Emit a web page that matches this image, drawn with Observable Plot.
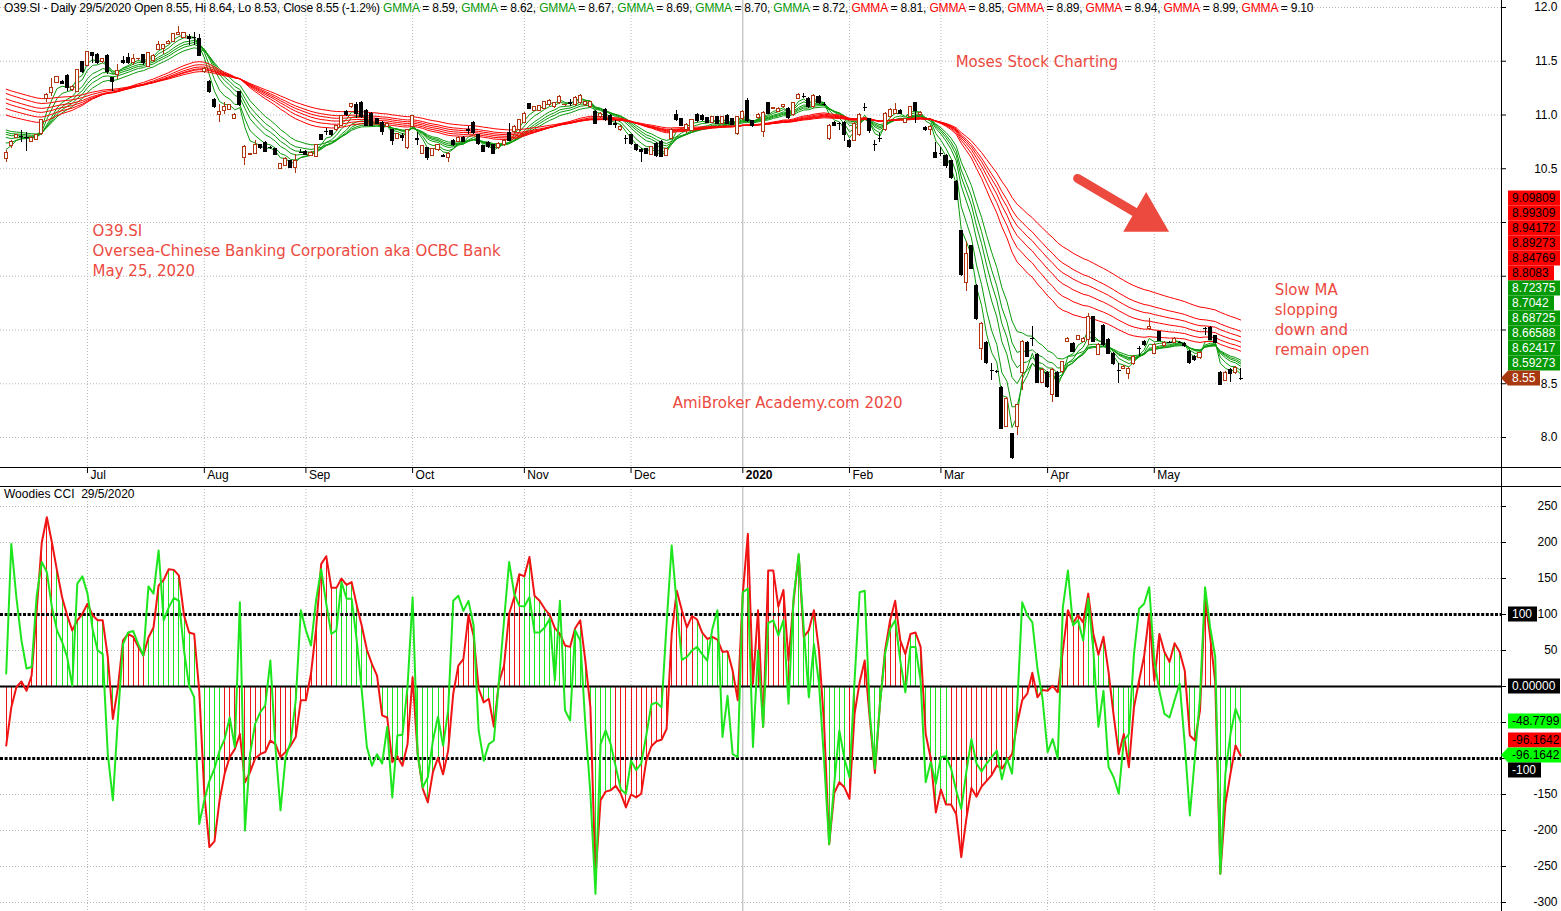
<!DOCTYPE html>
<html>
<head>
<meta charset="utf-8">
<script src="https://cdn.jsdelivr.net/npm/d3@7"></script>
<script src="https://cdn.jsdelivr.net/npm/@observablehq/plot@0.6"></script>
<style>
html,body{margin:0;padding:0;background:#fff;overflow:hidden;}
#root{position:relative;width:1561px;height:911px;overflow:hidden;background:#fff;font-family:"Liberation Sans",Arial,sans-serif;}
#root svg{display:block;}
.hdr{position:absolute;left:4px;top:1px;font-size:12px;line-height:14px;letter-spacing:-0.18px;white-space:nowrap;color:#000;}
.sub{position:absolute;left:4px;top:487px;font-size:12px;line-height:14px;white-space:nowrap;color:#000;}
</style>
</head>
<body>
<div id="root"></div>
<script>
// ---------------- DATA ----------------
const ticker = "O39.SI";
const dateText = "29/5/2020";

const open = [
10.59,10.71,10.79,10.80,10.79,10.75,10.77,10.82,11.15,11.20,
11.30,11.31,11.36,11.23,11.21,11.49,11.46,11.58,11.56,11.49,
11.55,11.34,11.37,11.50,11.53,11.48,11.52,11.56,11.45,11.50,
11.60,11.61,11.66,11.68,11.74,11.72,11.73,11.72,11.71,11.40,
11.31,11.14,11.00,11.04,11.05,10.96,11.21,10.60,10.63,10.64,
10.72,10.74,10.70,10.68,10.50,10.53,10.57,10.51,10.65,10.66,
10.62,10.61,10.81,10.85,10.85,10.86,10.90,11.03,11.07,11.09,
11.11,11.04,11.01,10.96,10.93,10.89,10.86,10.78,10.80,10.69,
10.89,10.78,10.64,10.69,10.62,10.67,10.62,10.60,10.76,10.75,
10.79,10.86,10.93,10.81,10.71,10.74,10.72,10.69,10.72,10.83,
10.84,10.86,10.93,11.10,11.04,11.04,11.06,11.09,11.07,11.11,
11.09,11.11,11.09,11.11,11.09,11.07,11.03,10.98,11.05,10.99,
10.92,10.86,10.78,10.81,10.72,10.67,10.68,10.63,10.73,10.75,
10.62,10.78,11.00,10.96,10.86,10.85,11.00,10.99,10.97,10.93,
10.98,10.92,10.99,10.96,10.82,10.96,11.13,10.94,10.97,10.84,
11.11,11.06,11.03,11.07,11.06,11.00,11.15,11.17,11.15,11.07,
11.17,11.10,10.78,10.93,10.92,10.93,10.76,10.76,10.81,11.07,
10.96,10.73,10.78,10.86,10.98,11.01,11.04,10.93,10.98,11.11,
11.00,10.88,10.86,10.65,10.64,10.62,10.57,10.38,9.92,9.44,
9.78,9.41,8.82,8.88,8.62,8.61,8.46,8.10,8.03,8.10,
8.60,8.88,8.92,8.77,8.51,8.60,8.40,8.60,8.61,8.89,
8.87,8.91,8.89,8.91,9.12,8.77,9.04,8.91,8.78,8.62,
8.64,8.59,8.68,8.83,8.89,9.01,8.78,8.98,8.85,8.88,
8.88,8.88,8.87,8.80,8.75,8.74,9.01,9.02,8.94,8.60,
8.53,8.63,8.60,8.55];

const high = [
10.67,10.76,10.82,10.86,10.84,10.80,10.82,10.95,11.20,11.34,
11.35,11.32,11.38,11.27,11.42,11.50,11.59,11.58,11.57,11.53,
11.56,11.34,11.47,11.54,11.57,11.56,11.53,11.56,11.58,11.56,
11.68,11.65,11.69,11.75,11.82,11.77,11.75,11.77,11.75,11.44,
11.32,11.15,11.10,11.12,11.10,11.01,11.22,10.72,10.64,10.76,
10.73,10.75,10.71,10.69,10.55,10.60,10.58,10.63,10.68,10.67,
10.66,10.73,10.82,10.87,10.86,10.90,10.99,11.04,11.11,11.12,
11.13,11.05,11.02,10.97,10.94,10.93,10.86,10.83,10.83,10.86,
10.99,10.84,10.72,10.70,10.69,10.73,10.63,10.65,10.77,10.80,
10.80,10.89,10.94,10.82,10.72,10.75,10.73,10.74,10.77,10.92,
10.90,10.96,11.02,11.11,11.08,11.09,11.13,11.14,11.12,11.18,
11.10,11.14,11.17,11.19,11.13,11.13,11.04,11.02,11.06,11.00,
10.95,10.90,10.81,10.82,10.73,10.69,10.69,10.71,10.74,10.76,
10.69,10.87,11.04,10.97,10.92,10.96,11.01,11.00,10.98,10.99,
10.99,10.99,11.00,10.97,10.98,11.04,11.15,10.95,11.01,11.03,
11.12,11.07,11.07,11.10,11.07,11.12,11.20,11.20,11.16,11.19,
11.18,11.12,10.91,10.94,10.93,10.94,10.77,10.93,11.01,11.11,
10.97,10.76,10.83,11.02,11.06,11.11,11.05,10.97,11.08,11.12,
11.03,10.89,10.90,10.74,10.70,10.63,10.58,10.39,9.93,9.82,
9.79,9.42,9.07,8.89,8.69,8.62,8.47,8.37,8.04,8.31,
8.90,8.89,9.03,8.78,8.64,8.61,8.64,8.61,8.71,8.93,
8.88,8.95,8.93,9.15,9.13,8.87,9.05,8.92,8.79,8.69,
8.67,8.65,8.76,8.85,8.90,9.11,8.87,8.99,8.89,8.89,
8.93,8.89,8.88,8.81,8.76,8.80,9.02,9.03,8.95,8.61,
8.61,8.64,8.66,8.64];

const low = [
10.56,10.69,10.78,10.74,10.66,10.74,10.76,10.81,11.12,11.17,
11.29,11.28,11.22,11.22,11.21,11.39,11.45,11.48,11.47,11.48,
11.38,11.22,11.33,11.47,11.47,11.46,11.51,11.46,11.45,11.49,
11.60,11.56,11.66,11.67,11.74,11.72,11.65,11.65,11.54,11.39,
11.20,11.06,10.93,11.00,11.04,10.96,11.08,10.53,10.62,10.64,
10.68,10.65,10.68,10.62,10.50,10.52,10.50,10.46,10.64,10.62,
10.61,10.60,10.76,10.81,10.80,10.85,10.89,10.99,11.06,10.97,
10.97,10.89,10.89,10.91,10.81,10.88,10.72,10.77,10.75,10.68,
10.88,10.72,10.63,10.58,10.61,10.66,10.60,10.56,10.71,10.74,
10.74,10.82,10.82,10.72,10.65,10.69,10.63,10.68,10.71,10.75,
10.83,10.85,10.92,11.05,11.03,11.03,11.05,11.08,11.06,11.10,
11.08,11.08,11.08,11.10,11.08,11.06,10.91,10.97,10.94,10.90,
10.87,10.85,10.73,10.72,10.66,10.56,10.63,10.62,10.60,10.60,
10.61,10.77,10.94,10.89,10.83,10.84,10.93,10.94,10.92,10.92,
10.91,10.91,10.91,10.90,10.81,10.95,10.93,10.88,10.96,10.79,
11.00,11.05,11.02,11.06,10.96,10.99,11.14,11.15,11.06,11.06,
11.10,11.08,10.76,10.89,10.86,10.75,10.69,10.75,10.80,11.03,
10.83,10.66,10.74,10.85,10.97,11.00,11.00,10.92,10.96,10.92,
10.99,10.85,10.81,10.60,10.61,10.50,10.40,10.20,9.50,9.36,
9.56,9.09,8.72,8.68,8.53,8.60,8.07,8.09,7.80,8.02,
8.44,8.74,8.85,8.50,8.50,8.46,8.33,8.37,8.60,8.88,
8.79,8.90,8.88,8.86,8.88,8.76,8.85,8.77,8.67,8.50,
8.63,8.54,8.67,8.75,8.85,9.00,8.77,8.89,8.84,8.87,
8.87,8.87,8.84,8.68,8.71,8.73,8.95,8.90,8.87,8.48,
8.52,8.51,8.59,8.53];

const close = [
10.65,10.75,10.81,10.80,10.79,10.79,10.81,10.95,11.19,11.25,
11.35,11.29,11.25,11.26,11.42,11.40,11.59,11.55,11.48,11.52,
11.40,11.31,11.41,11.48,11.48,11.52,11.525,11.48,11.58,11.55,
11.65,11.65,11.68,11.75,11.76,11.76,11.71,11.72,11.55,11.43,
11.21,11.07,11.03,11.07,11.09,11.00,11.09,10.70,10.635,10.72,
10.69,10.66,10.70,10.63,10.54,10.59,10.51,10.57,10.65,10.63,
10.65,10.72,10.77,10.85,10.81,10.90,10.99,11.00,11.10,11.01,
10.98,10.90,10.90,10.92,10.84,10.92,10.76,10.82,10.79,10.86,
10.99,10.77,10.71,10.60,10.68,10.72,10.61,10.64,10.72,10.79,
10.75,10.85,10.83,10.73,10.66,10.70,10.64,10.73,10.76,10.76,
10.89,10.95,11.01,11.06,11.07,11.08,11.12,11.13,11.11,11.17,
11.095,11.10,11.16,11.18,11.12,11.12,10.92,11.01,10.95,10.91,
10.91,10.89,10.78,10.73,10.67,10.66,10.64,10.70,10.62,10.61,
10.68,10.86,10.95,10.90,10.91,10.95,10.94,10.95,10.93,10.98,
10.92,10.98,10.92,10.91,10.98,11.03,10.94,10.90,11.00,11.02,
11.01,11.065,11.06,11.09,10.97,11.11,11.19,11.17,11.07,11.18,
11.11,11.10,10.90,10.90,10.92,10.81,10.70,10.92,11.00,11.07,
10.85,10.73,10.78,11.01,11.05,11.05,11.01,10.96,11.07,11.04,
11.02,10.86,10.89,10.60,10.64,10.53,10.41,10.21,9.51,9.71,
9.57,9.10,9.06,8.69,8.62,8.61,8.08,8.36,7.81,8.30,
8.89,8.75,8.92,8.51,8.63,8.47,8.63,8.38,8.70,8.92,
8.80,8.94,8.92,9.12,8.89,8.86,8.86,8.78,8.68,8.62,
8.66,8.64,8.75,8.83,8.86,9.03,8.86,8.90,8.88,8.88,
8.92,8.88,8.85,8.69,8.72,8.79,9.01,8.91,8.88,8.49,
8.60,8.59,8.65,8.55];

// Woodies CCI: CCI(14) (red line + histogram) and CCI(6) (green line)
const cci14 = [
-82,-29,-1,7,-6,15,105,200,235,200,
161,124,99,78,92,101,115,99,92,92,
41,-45,-1,64,73,69,55,43,68,82,
140,148,163,162,154,99,75,73,-6,-149,
-223,-215,-158,-121,-98,-87,-66,-133,-119,-100,
-94,-91,-75,-80,-98,-91,-82,-70,-19,-19,
18,80,170,181,137,137,150,141,145,113,
84,51,31,15,-40,-43,-105,-97,-110,-80,
13,-94,-142,-161,-119,-99,-122,-89,-10,29,
38,99,71,-3,-22,-17,-56,6,29,101,
124,156,153,180,126,119,108,99,81,73,
57,55,81,92,36,-29,-265,-158,-146,-144,
-138,-149,-168,-150,-154,-149,-103,-83,-76,-74,
-59,73,133,106,82,98,93,75,66,69,
65,48,49,22,-19,129,212,4,106,-56,
161,161,111,134,36,119,182,69,78,106,
50,-52,-219,-148,-133,-140,-156,-38,6,36,
-45,-120,-24,50,92,119,64,45,73,75,
55,-66,-100,-175,-143,-164,-164,-177,-237,-184,
-141,-153,-139,-131,-123,-110,-114,-104,-94,-52,
-19,-10,19,-15,-5,-6,1,-8,50,106,
88,99,89,129,73,44,69,20,-40,-94,
-66,-112,-29,8,42,101,8,73,48,34,
60,48,22,-68,-75,-33,124,69,6,-260,
-163,-121,-82,-96.1642];

const cci6 = [
18,198,124,64,25,27,126,173,159,110,
78,62,41,1,143,153,129,80,50,45,
-94,-158,-43,59,75,77,59,43,139,129,
189,92,110,123,119,50,1,-15,-191,-158,
-131,-114,-89,-73,-43,-84,117,-200,-94,-52,
-36,-26,36,-84,-172,-98,-77,-19,106,78,
57,120,163,115,73,78,145,122,122,64,
-6,-84,-110,-94,-107,-56,-154,-68,-67,-1,
124,-94,-140,-126,-75,-42,-82,-33,119,126,
105,119,85,-61,-103,-80,-75,8,92,173,
129,112,111,124,75,75,82,94,8,119,
-33,-47,78,64,-52,-149,-288,-80,-61,-80,
-112,-143,-149,-103,-116,-107,-68,-25,-22,-29,
87,196,113,37,41,50,55,45,36,80,
106,-70,-13,-94,-98,131,136,-84,50,-56,
88,92,71,92,-24,124,184,80,-15,59,
4,-103,-219,-135,-61,-100,-126,8,131,133,
-38,-114,-24,45,80,92,36,-8,55,55,
8,-133,-105,-135,-98,-97,-114,-144,-170,-119,
-73,-107,-118,-107,-98,-89,-129,-100,-121,-29,
117,99,89,25,-17,-91,-73,-100,110,161,
85,92,64,122,50,-56,-6,-112,-126,-149,
-75,-66,45,108,115,138,36,-6,-38,-43,
-19,4,-80,-179,-98,-15,138,82,41,-260,
-121,-66,-31,-48.7799];

// histogram colour runs: [first bar index, colour]
const histColorRuns = [[0,"r"],[10,"g"],[23,"r"],[28,"g"],[43,"r"],[65,"g"],[79,"r"],[81,"g"],[86,"r"],[93,"g"],[97,"r"],[102,"g"],[120,"r"],[136,"g"],[145,"r"],[149,"g"],[150,"r"],[155,"g"],[166,"r"],[170,"g"],[173,"r"],[178,"g"],[186,"r"],[203,"g"],[206,"r"],[207,"g"],[208,"r"],[213,"g"],[223,"r"],[228,"g"],[236,"r"],[239,"g"]];

// GMMA periods and the value of each average at the first visible bar
const gmmaShortPeriods = [3,5,8,10,12,15];
const gmmaLongPeriods = [30,35,40,45,50,60];
const gmmaShortSeeds = [10.68,10.74,10.79,10.82,10.84,10.86];
const gmmaLongSeeds = [11.00,11.06,11.11,11.15,11.20,11.24];
// last values shown on the right axis
const gmmaLongLast = [9.09809,8.99309,8.94172,8.89273,8.84769,8.8083];
const gmmaShortLast = [8.72375,8.7042,8.68725,8.66588,8.62417,8.59273];

// axis ticks
const priceTicks = [8,8.5,9,9.5,10,10.5,11,11.5,12];
const cciTicks = [250,200,150,100,50,0,-50,-100,-150,-200,-250,-300];
const monthLabels = ["Jul","Aug","Sep","Oct","Nov","Dec","2020","Feb","Mar","Apr","May"];
const monthStarts = [16,39,59,80,102,123,145,166,184,205,226];

// annotations (bar index, price)
const notes = [
  {x:186.9, y:11.488, t:"Moses Stock Charting"},
  {x:17.0, y:9.916, t:"O39.SI"},
  {x:17.0, y:9.730, t:"Oversea-Chinese Banking Corporation aka OCBC Bank"},
  {x:17.0, y:9.544, t:"May 25, 2020"},
  {x:131.2, y:8.316, t:"AmiBroker Academy.com 2020"},
  {x:249.7, y:9.367, t:"Slow MA"},
  {x:249.7, y:9.181, t:"slopping"},
  {x:249.7, y:8.995, t:"down and"},
  {x:249.7, y:8.809, t:"remain open"}
];
const arrowShaft = [{x1:210.9, y1:10.41, x2:222.0, y2:10.10}];
const arrowHead = [{x:224.4, y:10.037}];

// ---------------- STYLE ----------------
const FONT = '"Liberation Sans", Arial, sans-serif';
const GRID = "#b8b8b8";
const UP = "#b0350f";
const GMMA_GREEN = "#0a9a0a";
const GMMA_RED = "#ff0000";
const CCI_RED = "#f01414";
const CCI_GREEN = "#1ee61e";
const NOTE = "#ec4a3f";
const xMin = -1.122, xMax = 294.35;
const pxPerBar = 5.08;
const priceDomain = [7.721, 12.065];
const cciDomain = [-312.5, 277.8];
const TOP_H = 486, TOP_MB = 19, CCI_H = 425;

// ---------------- DERIVED TABLES ----------------
const n = close.length;
const bars = close.map((c, i) => ({i, o: open[i], h: high[i], l: low[i], c}));
function ema(period, seed) {
  const a = 2 / (period + 1);
  const out = [seed];
  for (let i = 1; i < n; i++) out.push(out[i - 1] + a * (close[i] - out[i - 1]));
  return out;
}
const shortRows = [], longRows = [];
gmmaShortPeriods.forEach((p, k) => ema(p, gmmaShortSeeds[k]).forEach((v, i) => shortRows.push({i, v, p})));
gmmaLongPeriods.forEach((p, k) => ema(p, gmmaLongSeeds[k]).forEach((v, i) => longRows.push({i, v, p})));

function histColor(i) {
  let c = "r";
  for (const [s, col] of histColorRuns) if (i >= s) c = col;
  return c === "g" ? CCI_GREEN : CCI_RED;
}
const cciRows = cci14.map((v, i) => ({i, v14: v, v6: cci6[i], hc: histColor(i)}));
const months = monthLabels.map((label, k) => ({label, i: monthStarts[k], year: /^\d{4}$/.test(label)}));

const ctx = document.createElement("canvas").getContext("2d");
ctx.font = "12px " + FONT;
const tw = s => ctx.measureText(s).width;

// ---------------- VALUE LABEL LAYOUT (right axis) ----------------
const AXIS_X = 1501, BOX_X = AXIS_X + 7, TICKTEXT_RIGHT = AXIS_X + 56;
function layoutLabels(items, anchorIdx, yScale) {
  const trueY = items.map(d => yScale(d.v));
  const pos = trueY.slice();
  for (let k = anchorIdx - 1; k >= 0; k--) pos[k] = Math.min(trueY[k], pos[k + 1] - 15);
  for (let k = anchorIdx + 1; k < items.length; k++) pos[k] = Math.max(trueY[k], pos[k - 1] + 15);
  return items.map((d, k) => ({...d, y: Math.round(pos[k]), w: Math.round(tw(d.text) + 9)}));
}
function visibleTicks(ticks, fmt, yScale, boxes) {
  return ticks.filter(t => {
    const y = yScale(t), left = TICKTEXT_RIGHT - tw(fmt(t));
    return !boxes.some(b => Math.abs(b.y - y) < 13 && BOX_X + b.w > left + 2);
  });
}

const priceYScale = d3.scaleLinear(priceDomain, [TOP_H - TOP_MB, 0]);
const cciYScale = d3.scaleLinear(cciDomain, [CCI_H, 0]);

const priceItems = layoutLabels([
  ...gmmaLongLast.map(v => ({v, text: String(v), bg: "#ff0000", fg: "#000"})),
  ...gmmaShortLast.map(v => ({v, text: String(v), bg: "#079a07", fg: "#fff"})),
  {v: close[n - 1], text: String(close[n - 1]), bg: "#a8380f", fg: "#fff", arrow: true}
], 12, priceYScale);

const lastHist = histColor(n - 1);
const cciItems = layoutLabels([
  {v: 100, text: "100", bg: "#000", fg: "#fff"},
  {v: 0, text: (0).toFixed(5), bg: "#000", fg: "#fff"},
  {v: cci6[n - 1], text: cci6[n - 1].toFixed(4), bg: "#00ff00", fg: "#000"},
  {v: cci14[n - 1], text: cci14[n - 1].toFixed(4), bg: "#ff0000", fg: "#000"},
  {v: cci14[n - 1], text: cci14[n - 1].toFixed(4), bg: lastHist === CCI_GREEN ? "#00ff00" : "#ff0000", fg: "#000", arrow: true},
  {v: -100, text: "-100", bg: "#000", fg: "#fff"}
], 4, cciYScale);

const priceFmt = d => d.toFixed(1);
const cciFmt = d => String(d);
const priceTickText = visibleTicks(priceTicks, priceFmt, priceYScale, priceItems);
const cciTickText = visibleTicks(cciTicks, cciFmt, cciYScale, cciItems);

const baseStyle = {background: "transparent", fontFamily: FONT, fontSize: "12px", overflow: "visible", color: "#000"};

// ---------------- PRICE PANE ----------------
const topChart = Plot.plot({
  width: 1561, height: TOP_H,
  marginTop: 0, marginRight: 60, marginBottom: TOP_MB, marginLeft: 0,
  x: {domain: [xMin, xMax], axis: null},
  y: {domain: priceDomain, axis: null},
  style: baseStyle,
  marks: [
    Plot.ruleY(priceTicks, {stroke: GRID, strokeDasharray: "1,2"}),
    Plot.ruleX(months.filter(d => !d.year), {x: "i", stroke: GRID, strokeDasharray: "1,2"}),
    Plot.ruleX(months.filter(d => d.year), {x: "i", stroke: "#b0b0b0"}),
    Plot.line(shortRows, {x: "i", y: "v", z: "p", stroke: GMMA_GREEN, strokeWidth: 1}),
    Plot.line(longRows, {x: "i", y: "v", z: "p", stroke: GMMA_RED, strokeWidth: 1}),
    Plot.ruleX(bars, {x: "i", y1: "l", y2: "h", stroke: d => d.c > d.o ? UP : "#000", shapeRendering: "crispEdges"}),
    Plot.rect(bars.filter(d => d.c !== d.o), {x1: d => d.i - 0.3, x2: d => d.i + 0.3, y1: "o", y2: "c",
      fill: d => d.c > d.o ? "#fff" : "#000", stroke: d => d.c > d.o ? UP : "#000", shapeRendering: "crispEdges"}),
    Plot.link(bars.filter(d => d.c === d.o), {x1: d => d.i - 0.4, x2: d => d.i + 0.4, y1: "c", y2: "c", stroke: "#000", shapeRendering: "crispEdges"}),
    Plot.text(notes, {x: "x", y: "y", text: "t", textAnchor: "start", fill: NOTE, fontSize: 15, fontFamily: '"DejaVu Sans", sans-serif'}),
    Plot.link(arrowShaft, {x1: "x1", y1: "y1", x2: "x2", y2: "y2", stroke: NOTE, strokeWidth: 9, strokeLinecap: "round"}),
    Plot.dot(arrowHead, {x: "x", y: "y", symbol: "triangle", r: 17, rotate: 120, fill: NOTE, stroke: "none"}),
    // x axis band
    Plot.ruleY([priceDomain[0]], {x1: () => xMin, x2: () => xMax + 60 / pxPerBar, stroke: "#000"}),
    Plot.ruleX(months, {x: "i", y1: () => priceDomain[0], y2: () => priceDomain[0] - 6 / 107.5, stroke: "#000"}),
    Plot.text(months.filter(d => !d.year), {x: "i", text: "label", frameAnchor: "bottom", dy: 11, dx: 3, textAnchor: "start", fontSize: 12, fill: "#000"}),
    Plot.text(months.filter(d => d.year), {x: "i", text: "label", frameAnchor: "bottom", dy: 11, dx: 3, textAnchor: "start", fontSize: 12, fontWeight: "bold", fill: "#000"}),
    // right axis
    Plot.ruleX([xMax], {y1: () => priceDomain[0] - TOP_MB / 107.5, y2: () => priceDomain[1], stroke: "#000"}),
    Plot.ruleY(priceTicks, {x1: () => xMax, x2: () => xMax + 5 / pxPerBar, stroke: "#000"}),
    Plot.text(priceTickText, {y: d => d, text: priceFmt, frameAnchor: "right", dx: 56, textAnchor: "end", fontSize: 12, fill: "#000"})
  ]
});

// ---------------- CCI PANE ----------------
const cciChart = Plot.plot({
  width: 1561, height: CCI_H,
  marginTop: 0, marginRight: 60, marginBottom: 0, marginLeft: 0,
  x: {domain: [xMin, xMax], axis: null},
  y: {domain: cciDomain, axis: null},
  style: baseStyle,
  marks: [
    Plot.ruleY(cciTicks.filter(v => v !== 0 && Math.abs(v) !== 100), {stroke: GRID, strokeDasharray: "1,2"}),
    Plot.ruleX(months.filter(d => !d.year), {x: "i", stroke: GRID, strokeDasharray: "1,2"}),
    Plot.ruleX(months.filter(d => d.year), {x: "i", stroke: "#b0b0b0"}),
    Plot.ruleX(cciRows, {x: "i", y1: () => 0, y2: "v14", stroke: "hc", strokeWidth: 1, shapeRendering: "crispEdges"}),
    Plot.ruleY([0], {stroke: "#000", strokeWidth: 2}),
    Plot.ruleY([100, -100], {stroke: "#000", strokeWidth: 3, strokeDasharray: "3,1.6"}),
    Plot.line(cciRows, {x: "i", y: "v14", stroke: CCI_RED, strokeWidth: 2}),
    Plot.line(cciRows, {x: "i", y: "v6", stroke: CCI_GREEN, strokeWidth: 2}),
    Plot.ruleY([cciDomain[1]], {x1: () => xMin, x2: () => xMax + 60 / pxPerBar, stroke: "#000"}),
    Plot.ruleX([xMax], {stroke: "#000"}),
    Plot.ruleY(cciTicks, {x1: () => xMax, x2: () => xMax + 5 / pxPerBar, stroke: "#000"}),
    Plot.text(cciTickText, {y: d => d, text: cciFmt, frameAnchor: "right", dx: 56, textAnchor: "end", fontSize: 12, fill: "#000"})
  ]
});

// ---------------- DRAW VALUE LABELS ----------------
function drawValueLabels(chart, items) {
  const g = d3.select(chart).append("g")
    .attr("font-family", FONT).attr("font-size", 12).attr("text-anchor", "start");
  items.forEach(d => {
    const y = d.y, x0 = BOX_X, w = d.w;
    if (d.arrow) {
      g.append("path").attr("d", `M${AXIS_X},${y} L${x0},${y - 7.5} L${x0 + w},${y - 7.5} L${x0 + w},${y + 7.5} L${x0},${y + 7.5} Z`).attr("fill", d.bg);
    } else {
      g.append("rect").attr("x", x0).attr("y", y - 7.5).attr("width", w).attr("height", 15).attr("fill", d.bg);
    }
    g.append("text").attr("x", x0 + 4).attr("y", y).attr("dy", "0.36em").attr("text-anchor", "start").attr("fill", d.fg).text(d.text);
  });
}
drawValueLabels(topChart, priceItems);
drawValueLabels(cciChart, cciItems);

// ---------------- ASSEMBLE ----------------
const root = document.getElementById("root");
root.appendChild(topChart);
root.appendChild(cciChart);

const hdr = document.createElement("div");
hdr.className = "hdr";
const chg = (close[n - 1] / close[n - 2] - 1) * 100;
let html = `${ticker} - Daily ${dateText} Open ${open[n-1]}, Hi ${high[n-1]}, Lo ${low[n-1]}, Close ${close[n-1]} (${chg.toFixed(1)}%) `;
const hdrVals = [...gmmaShortLast.slice().reverse().map(v => [v, "#0a9a0a"]), ...gmmaLongLast.slice().reverse().map(v => [v, "#ff0000"])];
html += hdrVals.map(([v, col]) => `<span style="color:${col}">GMMA</span> = ${v.toFixed(2)}`).join(", ");
hdr.innerHTML = html;
root.appendChild(hdr);

const sub = document.createElement("div");
sub.className = "sub";
sub.innerHTML = "Woodies CCI&nbsp;&nbsp;" + dateText;
root.appendChild(sub);
</script>
</body>
</html>
